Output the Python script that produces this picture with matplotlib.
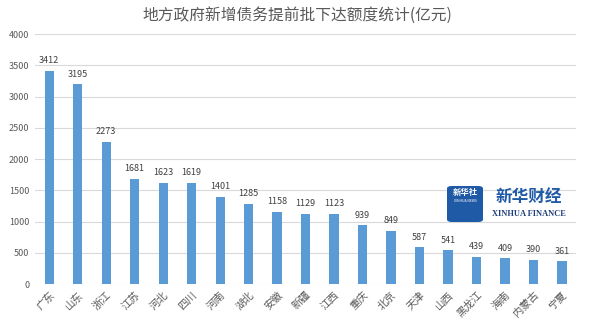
import matplotlib.pyplot as plt
from matplotlib.patches import FancyBboxPatch

plt.rcParams['font.family'] = ['Noto Sans CJK SC', 'DejaVu Sans']

provinces = ['广东', '山东', '浙江', '江苏', '河北', '四川', '河南', '湖北', '安徽', '新疆',
             '江西', '重庆', '北京', '天津', '山西', '黑龙江', '海南', '内蒙古', '宁夏']
amounts = [3412, 3195, 2273, 1681, 1623, 1619, 1401, 1285, 1158, 1129,
           1123, 939, 849, 587, 541, 439, 409, 390, 361]
y_ticks = [0, 500, 1000, 1500, 2000, 2500, 3000, 3500, 4000]

fig = plt.figure(figsize=(5.91, 3.28), dpi=100)
ax = fig.add_axes([0.059, 0.134, 0.916, 0.762])

x = range(len(provinces))
ax.bar(x, amounts, width=0.32, color='#5B9BD5', zorder=3)
for i, v in zip(x, amounts):
    ax.text(i, v + 90, str(v), ha='center', va='bottom', fontsize=6.5, color='#404040')

ax.set_xlim(-0.5, len(provinces) - 0.5)
ax.set_ylim(0, 4000)
ax.set_yticks(y_ticks)
ax.set_yticklabels([str(t) for t in y_ticks], fontsize=6.5, color='#595959')
ax.set_xticks(list(x))
ax.set_xticklabels(provinces, rotation=45, ha='right', rotation_mode='anchor',
                   fontsize=7.5, color='#595959')
ax.tick_params(length=0, pad=4)
ax.grid(axis='y', color='#D9D9D9', linewidth=0.8, zorder=0)
for s in ax.spines.values():
    s.set_visible(False)

fig.text(0.504, 0.952, '地方政府新增债务提前批下达额度统计(亿元)', ha='center', va='center',
         fontsize=11.3, color='#595959')

# logo
logo = FancyBboxPatch((447 / 591, 1 - 222 / 328), 36 / 591, 36 / 328,
                      boxstyle='round,pad=0,rounding_size=0.008',
                      transform=fig.transFigure, facecolor='#1F5AA6', edgecolor='none')
fig.patches.append(logo)
fig.text(465 / 591, 1 - 193 / 328, '新华社', ha='center', va='center', fontsize=6,
         color='white', fontweight='bold')
fig.text(465 / 591, 1 - 201 / 328, 'XINHUA NEWS', ha='center', va='center', fontsize=2.5,
         color='white')
fig.text(529 / 591, 1 - 197 / 328, '新华财经', ha='center', va='center', fontsize=12,
         color='#1F5AA6', fontweight='bold', fontstyle='italic')
fig.text(529 / 591, 1 - 214 / 328, 'XINHUA FINANCE', ha='center', va='center', fontsize=6,
         color='#1F3F7A', family='Liberation Serif', fontweight='bold')

fig.savefig('out.png', dpi=100, facecolor='white')
